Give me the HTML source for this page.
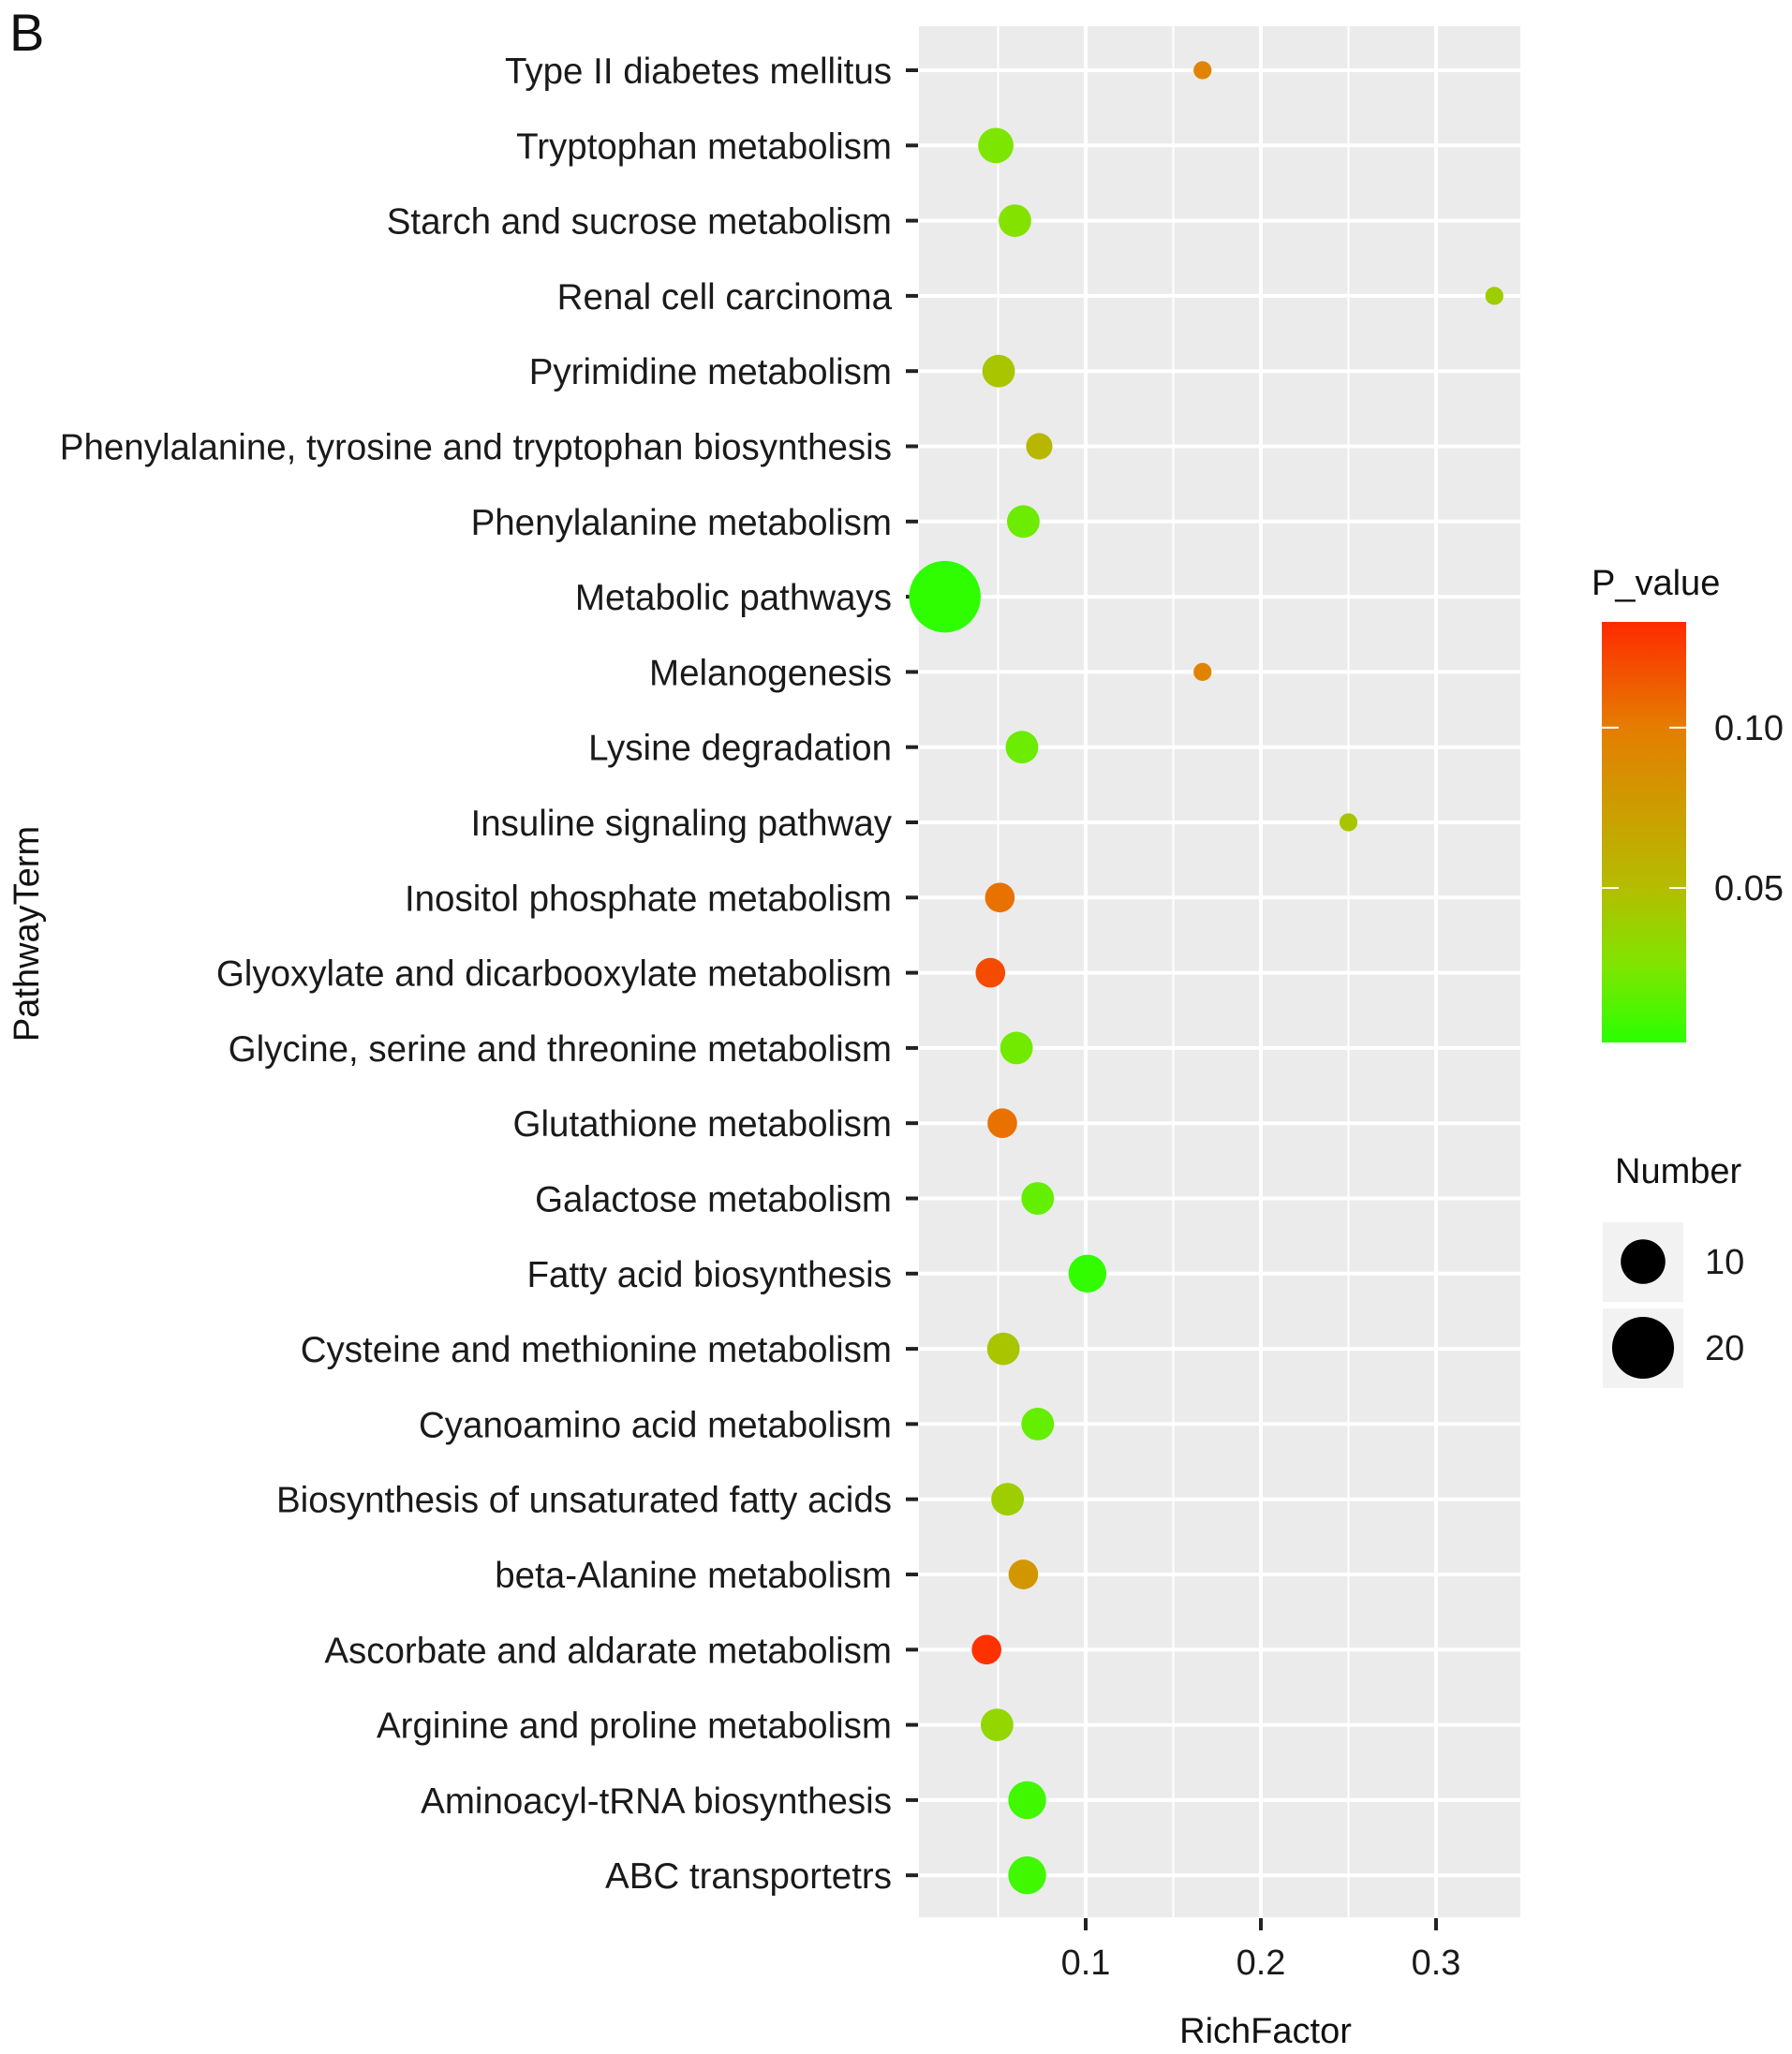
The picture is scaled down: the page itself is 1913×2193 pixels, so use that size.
<!DOCTYPE html>
<html><head><meta charset="utf-8"><style>
html,body{margin:0;padding:0;background:#fff;}
svg{display:block;font-family:"Liberation Sans",Arial,sans-serif;}
</style></head><body>
<svg id="chart" width="1913" height="2193" viewBox="0 0 1913 2193" xmlns="http://www.w3.org/2000/svg">
<defs>
<linearGradient id="pgrad" x1="0" y1="1" x2="0" y2="0">
<stop offset="0" stop-color="#2aff00"/>
<stop offset="0.18" stop-color="#7ee600"/>
<stop offset="0.37" stop-color="#b5bc00"/>
<stop offset="0.75" stop-color="#e57d00"/>
<stop offset="1" stop-color="#ff2a00"/>
</linearGradient>
</defs>
<text x="10" y="54" font-size="56" fill="#111">B</text>
<rect x="981" y="28" width="642" height="2019" fill="#ebebeb"/>
<g id="grid"></g>
<g id="ylabels"></g>
<g id="xaxis"></g>
<g id="points"></g>
<text transform="translate(41,997) rotate(-90)" text-anchor="middle" font-size="38" fill="#111">PathwayTerm</text>
<text x="1351" y="2181" text-anchor="middle" font-size="38" fill="#111">RichFactor</text>
<g>
<text x="1699" y="635" font-size="38" fill="#111">P_value</text>
<rect x="1710" y="664" width="90" height="449" fill="url(#pgrad)"/>
<g id="cticks"></g>
</g>
<g>
<text x="1724" y="1263" font-size="38" fill="#111">Number</text>
<g id="sizekeys"></g>
</g>
</svg>
<script>
const categories = ["Type II diabetes mellitus","Tryptophan metabolism","Starch and sucrose metabolism","Renal cell carcinoma","Pyrimidine metabolism","Phenylalanine, tyrosine and tryptophan biosynthesis","Phenylalanine metabolism","Metabolic pathways","Melanogenesis","Lysine degradation","Insuline signaling pathway","Inositol phosphate metabolism","Glyoxylate and dicarbooxylate metabolism","Glycine, serine and threonine metabolism","Glutathione metabolism","Galactose metabolism","Fatty acid biosynthesis","Cysteine and methionine metabolism","Cyanoamino acid metabolism","Biosynthesis of unsaturated fatty acids","beta-Alanine metabolism","Ascorbate and aldarate metabolism","Arginine and proline metabolism","Aminoacyl-tRNA biosynthesis","ABC transportetrs"];
const richFactor = [0.1667,0.0487,0.0596,0.3333,0.0503,0.0735,0.0644,0.0196,0.1667,0.0636,0.25,0.051,0.0456,0.0605,0.0524,0.0726,0.101,0.053,0.0726,0.0554,0.0644,0.0434,0.0494,0.0666,0.0666];
const pValues = [0.095,0.025,0.028,0.04,0.045,0.055,0.02,0.003,0.095,0.02,0.045,0.105,0.12,0.022,0.105,0.018,0.004,0.045,0.018,0.04,0.08,0.13,0.035,0.008,0.008];
const numbers = [1,6,5,1,5,3,5,27,1,5,1,4,4,5,4,5,7,5,5,5,4,4,5,7,7];
const xTicks = [0.1,0.2,0.3];
const xMinor = [0.05,0.15,0.25];
const pTicks = [0.05,0.10];
const sizeKeys = [10,20];

const NS="http://www.w3.org/2000/svg";
function mk(tag,attrs,parent){const e=document.createElementNS(NS,tag);for(const k in attrs)e.setAttribute(k,attrs[k]);parent.appendChild(e);return e;}
const X=v=>972+v*1870;
const Y=i=>75+i*80.3;
const R=n=>Math.sqrt(40+52.6*n);
const P=p=>1113-(p-0.0018)/(0.1312)*449;
const stops=[[0,[42,255,0]],[0.18,[126,230,0]],[0.37,[181,188,0]],[0.75,[229,125,0]],[1,[255,42,0]]];
function col(p){const t=Math.max(0,Math.min(1,(p-0.0018)/0.1312));for(let i=1;i<stops.length;i++){if(t<=stops[i][0]){const a=stops[i-1],b=stops[i];const f=(t-a[0])/(b[0]-a[0]);const c=a[1].map((v,k)=>Math.round(v+(b[1][k]-v)*f));return `rgb(${c})`;}}return "rgb(255,42,0)";}

const grid=document.getElementById('grid');
xMinor.forEach(v=>{const l=mk('line',{x1:X(v),x2:X(v),y1:28,y2:2047,stroke:'#fff','stroke-width':2},grid);

});
xTicks.forEach(v=>{const l=mk('line',{x1:X(v),x2:X(v),y1:28,y2:2047,stroke:'#fff','stroke-width':4},grid);

});
categories.forEach((c,i)=>{const l=mk('line',{x1:981,x2:1623,y1:Y(i),y2:Y(i),stroke:'#fff','stroke-width':4},grid);

});

const yl=document.getElementById('ylabels');
categories.forEach((c,i)=>{
const t=mk('line',{x1:967,x2:980,y1:Y(i),y2:Y(i),stroke:'#222','stroke-width':4},yl);


const tx=mk('text',{x:952,y:Y(i)+14,'text-anchor':'end','font-size':38.5,fill:'#1a1a1a'},yl);
tx.textContent=c;

});

const xa=document.getElementById('xaxis');
xTicks.forEach(v=>{
const t=mk('line',{x1:X(v),x2:X(v),y1:2048,y2:2061,stroke:'#222','stroke-width':4},xa);


const tx=mk('text',{x:X(v),y:2108,'text-anchor':'middle','font-size':38,fill:'#1a1a1a'},xa);
tx.textContent=String(v);

});

const pts=document.getElementById('points');
categories.forEach((c,i)=>{
const e=mk('circle',{cx:X(richFactor[i]),cy:Y(i),r:R(numbers[i]),fill:col(pValues[i])},pts);

});

const ct=document.getElementById('cticks');
pTicks.forEach(v=>{
const a=mk('line',{x1:1710,x2:1728,y1:P(v),y2:P(v),stroke:'#fff','stroke-width':2},ct);


const b=mk('line',{x1:1782,x2:1800,y1:P(v),y2:P(v),stroke:'#fff','stroke-width':2},ct);


const tx=mk('text',{x:1830,y:P(v)+13,'font-size':38,fill:'#1a1a1a'},ct);
tx.textContent=v.toFixed(2);

});

const sk=document.getElementById('sizekeys');
sizeKeys.forEach((n,i)=>{
const y0=1305+i*92;
const b=mk('rect',{x:1711,y:y0,width:86,height:85,fill:'#f2f2f2'},sk);


const c=mk('circle',{cx:1754,cy:y0+42,r:R(n),fill:'#000'},sk);


const tx=mk('text',{x:1820,y:y0+55,'font-size':38,fill:'#1a1a1a'},sk);
tx.textContent=String(n);

});
</script>
</body></html>
